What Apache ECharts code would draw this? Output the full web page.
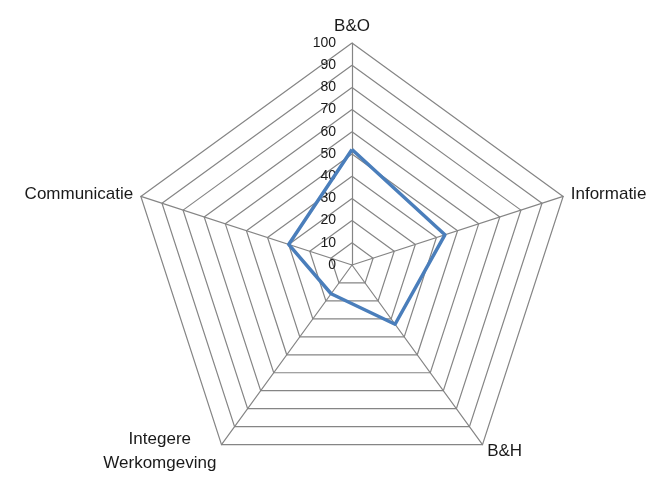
<!DOCTYPE html>
<html>
<head>
<meta charset="utf-8">
<script src="https://cdn.jsdelivr.net/npm/echarts@6/dist/echarts.min.js"></script>
<style>
html,body{margin:0;padding:0;background:#fff;}
#chart{width:672px;height:477px;}
</style>
</head>
<body>
<div id="chart"></div>
<script>
// Indicators listed counter-clockwise starting at the top
const indicatorNames = ['B&O', 'Communicatie', 'Integere\nWerkomgeving', 'B&H', 'Informatie'];
const seriesValues = [52, 30, 16, 33, 44];
const tickLabels = ['0','10','20','30','40','50','60','70','80','90','100'];
const axisMax = 100;

const chart = echarts.init(document.getElementById('chart'));
const gridColor = '#858585';
const fontFam = 'Liberation Sans, Arial, sans-serif';
chart.setOption({
  animation: false,
  radar: {
    center: [352, 265],
    radius: 222,
    startAngle: 90,
    shape: 'polygon',
    splitNumber: 10,
    indicator: indicatorNames.map(n => ({ name: n, min: 0, max: axisMax })),
    axisName: {
      color: '#1a1a1a', fontSize: 17, fontFamily: fontFam,
      formatter: (name) => name.indexOf('\n') >= 0
        ? name.split('\n').map(s => '{c|' + s + '}').join('\n')
        : name,
      rich: {
        c: { width: 114, align: 'center', lineHeight: 24, fontSize: 17, fontFamily: fontFam, color: '#1a1a1a' }
      }
    },
    nameGap: 8,
    axisLine: { lineStyle: { color: gridColor, width: 1.2 } },
    splitLine: { lineStyle: { color: gridColor, width: 1.2 } },
    splitArea: { show: false },
    axisTick: { show: false },
    axisLabel: { show: false }
  },
  polar: { center: [352, 265], radius: 222 },
  angleAxis: { show: false, startAngle: 90, min: 0, max: 360 },
  radiusAxis: {
    min: 0, max: axisMax, interval: 10,
    axisLine: { show: false }, axisTick: { show: false }, splitLine: { show: false },
    axisLabel: {
      show: true, margin: 16, color: '#1a1a1a', fontSize: 14, fontFamily: fontFam,
      formatter: (v) => tickLabels[Math.round(v / 10)]
    }
  },
  series: [{
    type: 'radar',
    symbol: 'none',
    lineStyle: { color: '#4a7ebb', width: 3.5 },
    data: [{ value: seriesValues }]
  }]
});
</script>
</body>
</html>
